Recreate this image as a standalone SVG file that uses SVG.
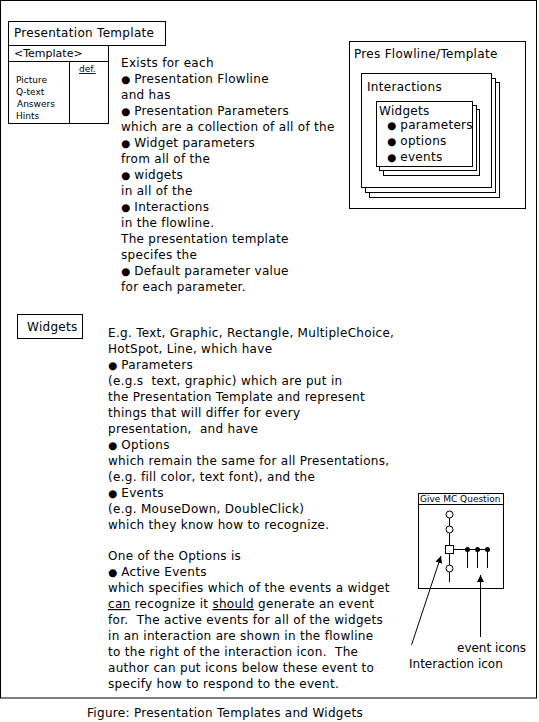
<svg xmlns="http://www.w3.org/2000/svg" width="539" height="722" viewBox="0 0 539 722">
<style>
text{font-family:"DejaVu Sans",Verdana,sans-serif;font-size:12px;letter-spacing:0.3px;fill:#000;white-space:pre}
.sm{font-size:9px;letter-spacing:0}
.b{font-size:10.5px;letter-spacing:0}
.box{fill:#fff;stroke:#000;stroke-width:1}
.ln{stroke:#000;stroke-width:1;fill:none}
</style>
<defs>
<marker id="ah" viewBox="0 0 10 10" refX="10" refY="5" markerWidth="7" markerHeight="11" markerUnits="userSpaceOnUse" orient="auto"><path d="M0,0L10,5L0,10z" fill="#000"/></marker>
</defs>
<rect x="0.5" y="0.5" width="536" height="697.5" class="box"/>

<g id="presentation-template">
<rect x="8.5" y="21.5" width="157" height="24" class="box"/>
<text x="14" y="37">Presentation Template</text>
<rect x="8.5" y="45.5" width="100" height="78" class="box"/>
<line x1="8.5" y1="61.5" x2="108.5" y2="61.5" class="ln"/>
<line x1="69.5" y1="61.5" x2="69.5" y2="123.5" class="ln"/>
<text x="14" y="57" style="font-size:11px;letter-spacing:0">&lt;Template&gt;</text>
<text x="79" y="72" class="sm" text-decoration="underline">def.</text>
<text x="16" y="83" class="sm">Picture</text>
<text x="16" y="95" class="sm">Q-text</text>
<text x="17" y="107" class="sm">Answers</text>
<text x="16" y="119" class="sm">Hints</text>
</g>

<g id="template-text">
<text x="121" y="67">Exists for each</text>
<text x="121" y="83"><tspan class="b">●</tspan> Presentation Flowline</text>
<text x="121" y="99">and has</text>
<text x="121" y="115"><tspan class="b">●</tspan> Presentation Parameters</text>
<text x="121" y="131">which are a collection of all of the</text>
<text x="121" y="147"><tspan class="b">●</tspan> Widget parameters</text>
<text x="121" y="163">from all of the</text>
<text x="121" y="179"><tspan class="b">●</tspan> widgets</text>
<text x="121" y="195">in all of the</text>
<text x="121" y="211"><tspan class="b">●</tspan> Interactions</text>
<text x="121" y="227">in the flowline.</text>
<text x="121" y="243">The presentation template</text>
<text x="121" y="259">specifes the</text>
<text x="121" y="275"><tspan class="b">●</tspan> Default parameter value</text>
<text x="121" y="291">for each parameter.</text>
</g>

<g id="pres-flowline">
<rect x="349.5" y="41.5" width="176" height="167" class="box"/>
<text x="354" y="58">Pres Flowline/Template</text>
<rect x="369.5" y="82.5" width="130" height="115" class="box"/>
<rect x="365.5" y="78.5" width="130" height="114" class="box"/>
<rect x="361.5" y="73.5" width="130" height="114" class="box"/>
<text x="367" y="91">Interactions</text>
<rect x="383.5" y="109.5" width="96" height="66" class="box"/>
<rect x="379.5" y="105.5" width="97" height="65" class="box"/>
<rect x="376.5" y="101.5" width="96" height="65" class="box"/>
<text x="379" y="115">Widgets</text>
<text x="387" y="129"><tspan class="b">●</tspan> parameters</text>
<text x="387" y="145"><tspan class="b">●</tspan> options</text>
<text x="387" y="161"><tspan class="b">●</tspan> events</text>
</g>

<g id="widgets">
<rect x="17.5" y="314.5" width="65" height="24" class="box"/>
<text x="27" y="331">Widgets</text>
</g>

<g id="widgets-text">
<text x="108" y="337">E.g. Text, Graphic, Rectangle, MultipleChoice,</text>
<text x="108" y="353">HotSpot, Line, which have</text>
<text x="108" y="369"><tspan class="b">●</tspan> Parameters</text>
<text x="108" y="385">(e.g.s  text, graphic) which are put in</text>
<text x="108" y="401">the Presentation Template and represent</text>
<text x="108" y="417">things that will differ for every</text>
<text x="108" y="433">presentation,  and have</text>
<text x="108" y="449"><tspan class="b">●</tspan> Options</text>
<text x="108" y="465">which remain the same for all Presentations,</text>
<text x="108" y="481">(e.g. fill color, text font), and the</text>
<text x="108" y="497"><tspan class="b">●</tspan> Events</text>
<text x="108" y="513">(e.g. MouseDown, DoubleClick)</text>
<text x="108" y="529">which they know how to recognize.</text>
<text x="108" y="560">One of the Options is</text>
<text x="108" y="576"><tspan class="b">●</tspan> Active Events</text>
<text x="108" y="592">which specifies which of the events a widget</text>
<text x="108" y="608"><tspan text-decoration="underline">can</tspan> recognize it <tspan text-decoration="underline">should</tspan> generate an event</text>
<text x="108" y="624">for.  The active events for all of the widgets</text>
<text x="108" y="640">in an interaction are shown in the flowline</text>
<text x="108" y="656">to the right of the interaction icon.  The</text>
<text x="108" y="672">author can put icons below these event to</text>
<text x="108" y="688">specify how to respond to the event.</text>
</g>

<g id="give-mc-question">
<rect x="418.5" y="493.5" width="85" height="95" class="box"/>
<line x1="418.5" y1="504.5" x2="503.5" y2="504.5" class="ln"/>
<text x="420" y="502" class="sm">Give MC Question</text>
<line x1="449.5" y1="511" x2="449.5" y2="582" class="ln"/>
<line x1="453" y1="549.5" x2="488" y2="549.5" class="ln"/>
<circle cx="449.5" cy="514.5" r="3.5" class="box"/>
<circle cx="449.5" cy="529.5" r="3.5" class="box"/>
<circle cx="449.5" cy="568.5" r="3.5" class="box"/>
<rect x="445.5" y="545.5" width="8" height="8" class="box"/>
<line x1="467.5" y1="549.5" x2="467.5" y2="568" class="ln"/>
<line x1="477.5" y1="549.5" x2="477.5" y2="568" class="ln"/>
<line x1="487.5" y1="549.5" x2="487.5" y2="568" class="ln"/>
<circle cx="467.5" cy="549.5" r="2.5" fill="#000"/>
<circle cx="477.5" cy="549.5" r="2.5" fill="#000"/>
<circle cx="487.5" cy="549.5" r="2.5" fill="#000"/>
</g>

<g id="connectors">
<line x1="411.5" y1="645" x2="441" y2="556" class="ln" marker-end="url(#ah)"/>
<line x1="480.5" y1="637" x2="480.5" y2="575" class="ln" marker-end="url(#ah)"/>
</g>

<g id="labels">
<text x="457" y="652" style="letter-spacing:0">event icons</text>
<text x="409" y="668" style="letter-spacing:0">Interaction icon</text>
<text x="87" y="717">Figure: Presentation Templates and Widgets</text>
</g>
</svg>
